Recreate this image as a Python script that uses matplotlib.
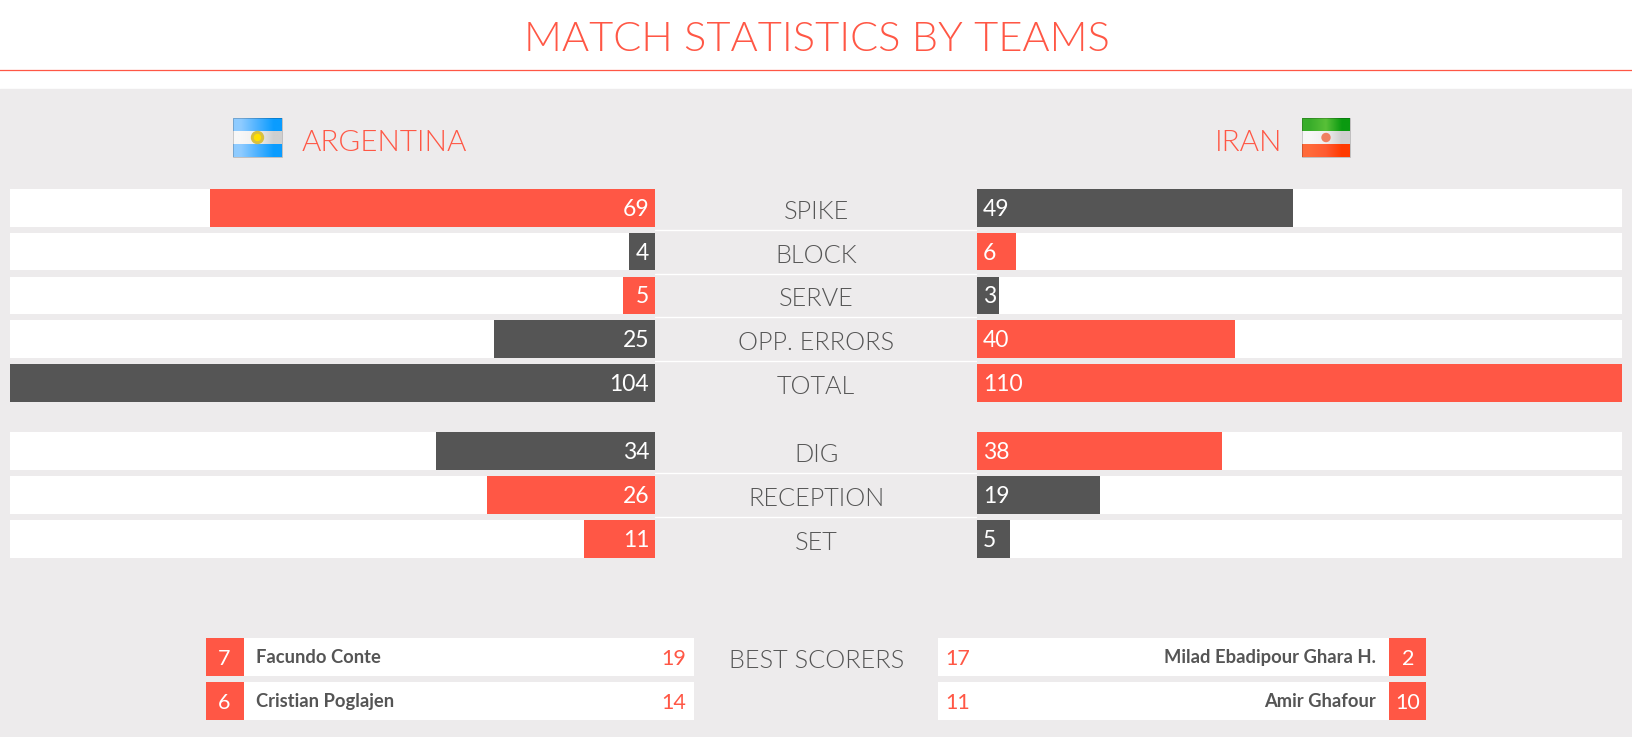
import numpy as np
import matplotlib
matplotlib.use("Agg")
import matplotlib.pyplot as plt
from matplotlib.colors import to_rgb
from matplotlib.patches import Rectangle, Circle

W, H = 1633, 737

RED = "#ff5745"
DARK = "#555555"
BG = "#edebec"
THIN = 300
MIN_BAR = 3.4  # the page keeps small bars wide enough for their digit

plt.rcParams["font.family"] = ["Lato", "DejaVu Sans"]

# attack and defence rows, bars are percent of the row width, capped at 100
stats_top = ["SPIKE", "BLOCK", "SERVE", "OPP. ERRORS", "TOTAL"]
arg_top = [69, 4, 5, 25, 104]
iran_top = [49, 6, 3, 40, 110]

stats_bottom = ["DIG", "RECEPTION", "SET"]
arg_bottom = [34, 26, 11]
iran_bottom = [38, 19, 5]

scorers_arg = ["Facundo Conte", "Cristian Poglajen"]
shirts_arg = [7, 6]
points_arg = [19, 14]
scorers_iran = ["Milad Ebadipour Ghara H.", "Amir Ghafour"]
shirts_iran = [2, 10]
points_iran = [17, 11]


def px_axes(fig, x0, y0, x1, y1):
    # axes from pixel box, y measured from the top of the picture
    ax = fig.add_axes([x0 / W, 1 - y1 / H, (x1 - x0) / W, (y1 - y0) / H])
    ax.axis("off")
    return ax


def stat_block(fig, labels, left, right, y0, y1):
    n = len(labels)
    pitch = (y1 - y0) / n
    bar_h = 37.5 / pitch
    ax_l = px_axes(fig, 10, y0, 655, y1)
    ax_r = px_axes(fig, 977.4, y0, 1622.4, y1)
    for ax in (ax_l, ax_r):
        ax.set_ylim(n - 0.5, -0.5)
        ax.barh(range(n), [100] * n, height=bar_h, color="white", zorder=1)
    ax_l.set_xlim(100, 0)
    ax_r.set_xlim(0, 100)
    for i in range(n):
        c_l = RED if left[i] > right[i] else DARK
        c_r = RED if right[i] > left[i] else DARK
        ax_l.barh(i, max(left[i], MIN_BAR), height=bar_h, color=c_l, zorder=2)
        ax_r.barh(i, max(right[i], MIN_BAR), height=bar_h, color=c_r, zorder=2)
        ax_l.text(0.9, i + 8 / pitch, str(left[i]), color="white", fontsize=16.5,
                  ha="right", va="baseline", zorder=3)
        ax_r.text(0.9, i + 8 / pitch, str(right[i]), color="white", fontsize=16.5,
                  ha="left", va="baseline", zorder=3)
    # centre labels sit on the same rows
    ax_c = px_axes(fig, 655, y0, 977.4, y1)
    ax_c.set_ylim(n - 0.5, -0.5)
    ax_c.set_xlim(0, 1)
    for i, lab in enumerate(labels):
        ax_c.text(0.5, i + 11 / pitch, lab, color=DARK, fontsize=18.2, fontweight=THIN,
                  ha="center", va="baseline")
        if i < n - 1:
            ax_c.axhline(i + 0.5, color="white", lw=1)


def scorer_block(fig, names, shirts, points, x0, x1, side):
    n = len(names)
    ax = px_axes(fig, x0, 635, x1, 723)
    ax.set_xlim(x0, x1)
    ax.set_ylim(n - 0.5, -0.5)
    ax.barh(range(n), [x1 - x0] * n, left=x0, height=38 / 44, color="white")
    for i in range(n):
        if side == "left":
            ax.barh(i, 38, left=x0, height=38 / 44, color=RED)
            ax.text(x0 + 18, i + 8 / 44, str(shirts[i]), color="white", fontsize=15.5,
                    ha="center", va="baseline")
            ax.text(x0 + 50, i + 6 / 44, names[i], color=DARK, fontsize=13.2,
                    fontweight="bold", va="baseline")
            ax.text(x1 - 8, i + 8 / 44, str(points[i]), color=RED, fontsize=15.5,
                    ha="right", va="baseline")
        else:
            ax.barh(i, 37, left=x1 - 37, height=38 / 44, color=RED)
            ax.text(x1 - 18.5, i + 8 / 44, str(shirts[i]), color="white", fontsize=15.5,
                    ha="center", va="baseline")
            ax.text(x1 - 51, i + 6 / 44, names[i], color=DARK, fontsize=13.2,
                    fontweight="bold", ha="right", va="baseline")
            ax.text(x0 + 7, i + 8 / 44, str(points[i]), color=RED, fontsize=15.5,
                    va="baseline")


def flag(ax, x, y, w, h, stripes):
    # three glossy stripes, each a left to right colour ramp
    third = h / 3
    for k, stops in enumerate(stripes):
        img = np.array([[to_rgb(c) for c in stops]])
        ax.imshow(img, extent=(x, x + w, y + (k + 1) * third, y + k * third),
                  aspect="auto", interpolation="bilinear", zorder=2)
    ax.add_patch(Rectangle((x, y), w, h, fill=False, ec="#00000030", lw=0.7, zorder=3))


fig = plt.figure(figsize=(W / 100, H / 100), dpi=100, facecolor="white")
bg = fig.add_axes([0, 0, 1, 1])
bg.axis("off")
bg.add_patch(Rectangle((0, 89), W, H - 89, color=BG, zorder=0))
bg.plot([0, W], [70, 70], color=RED, lw=0.9, zorder=1)
bg.text(817, 51, "MATCH STATISTICS BY TEAMS", color=RED, fontsize=30, fontweight=THIN,
        ha="center", va="baseline")
bg.text(302, 151, "ARGENTINA", color=RED, fontsize=21.3, fontweight=THIN, va="baseline")
bg.text(1282, 151, "IRAN", color=RED, fontsize=21.3, fontweight=THIN, ha="right", va="baseline")
bg.text(817, 668, "BEST SCORERS", color=DARK, fontsize=18.2, fontweight=THIN,
        ha="center", va="baseline")

sky = ["#8ecbff", "#4db2ff", "#0a9cff"]
flag(bg, 233, 118, 49, 39, [sky, ["#f7f7f7", "#efefef", "#cfcfcf"], sky])
bg.add_patch(Circle((257.5, 137.5), 6, color="#d8c040", zorder=4))
bg.add_patch(Circle((257.5, 137.5), 3, color="#ffe000", zorder=5))
flag(bg, 1302, 118, 48, 39, [["#38ad2a", "#58c038", "#0a9a10"],
                             ["#f7f7f7", "#efefef", "#cfcfcf"],
                             ["#ff6a3a", "#ff5a30", "#ff3a00"]])
bg.add_patch(Circle((1326, 137.5), 4, color="#f08060", zorder=4))
bg.set_xlim(0, W)
bg.set_ylim(H, 0)

stat_block(fig, stats_top, arg_top, iran_top, 186, 404.75)
stat_block(fig, stats_bottom, arg_bottom, iran_bottom, 429, 561)

scorer_block(fig, scorers_arg, shirts_arg, points_arg, 206, 694, "left")
scorer_block(fig, scorers_iran, shirts_iran, points_iran, 938.4, 1426.4, "right")

fig.savefig("out.png", dpi=100)
